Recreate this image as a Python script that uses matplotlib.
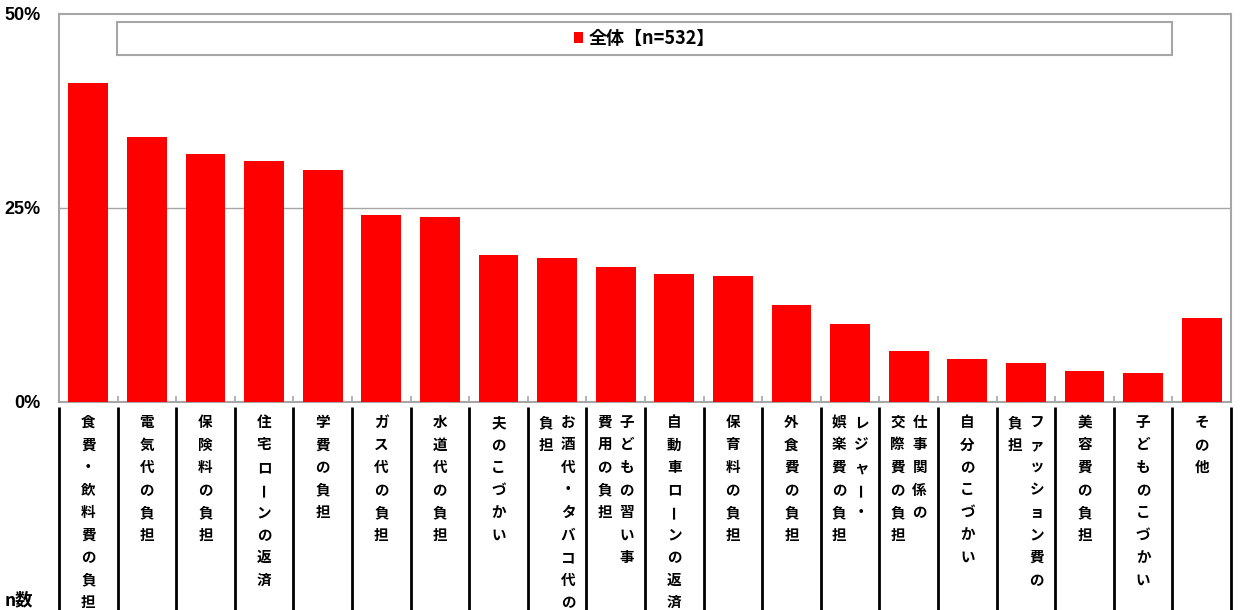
import matplotlib
matplotlib.use("Agg")
import matplotlib.pyplot as plt
from matplotlib.patches import Rectangle
from matplotlib.transforms import blended_transform_factory

plt.rcParams['font.family'] = ['Noto Sans CJK JP', 'DejaVu Sans']

# columns of each label are separated by "\n" (first column drawn on the right)
categories = [
    "食費・飲料費の負担", "電気代の負担", "保険料の負担", "住宅ローンの返済",
    "学費の負担", "ガス代の負担", "水道代の負担", "夫のこづかい",
    "お酒代・タバコ代の\n負担", "子どもの習い事\n費用の負担", "自動車ローンの返済",
    "保育料の負担", "外食費の負担", "レジャー・\n娯楽費の負担", "仕事関係の\n交際費の負担",
    "自分のこづかい", "ファッション費の\n負担", "美容費の負担", "子どものこづかい", "その他",
]
values = [41.1, 34.1, 32.0, 31.1, 29.9, 24.1, 23.8, 18.9, 18.6, 17.4,
          16.5, 16.2, 12.5, 10.1, 6.6, 5.5, 5.0, 4.0, 3.7, 10.8]
series_name = "全体【n=532】"
ytick_vals = [0, 25, 50]
ytick_labels = ["0%", "25%", "50%"]

W, H = 1242, 610
fig = plt.figure(figsize=(W / 100, H / 100), dpi=100)
ax = fig.add_axes([59 / W, 1 - 402 / H, (1231 - 59) / W, (402 - 14) / H])

gray = "#a6a6a6"
xs = list(range(len(values)))
bars = ax.bar(xs, values, width=0.68, color="#ff0000", label=series_name, zorder=3)

ax.set_xlim(-0.5, len(values) - 0.5)
ax.set_ylim(0, 50)
ax.set_yticks(ytick_vals)
ax.set_yticklabels(ytick_labels, family=['Liberation Sans', 'DejaVu Sans'],
                   fontsize=13, fontweight='bold')
ax.tick_params(axis='y', length=0, pad=13)
ax.set_xticks([k - 0.5 for k in range(1, len(values))])
ax.set_xticklabels([])
ax.tick_params(axis='x', direction='in', length=4, color=gray, width=1.2)
for s in ax.spines.values():
    s.set_color(gray)
    s.set_linewidth(1.5)
ax.axhline(25, color=gray, lw=1.0, zorder=1)

# legend box
box = Rectangle((117 / W, 1 - 55 / H), (1172 - 117) / W, 33 / H,
                transform=fig.transFigure, facecolor="white",
                edgecolor=gray, lw=1.5, zorder=5, clip_on=False)
ax.add_patch(box)
leg = ax.legend(loc='center', bbox_to_anchor=(((117 + 1172) / 2 - 59) / (1231 - 59),
                                               (402 - 38.5) / (402 - 14)),
                frameon=False, handlelength=0.5, handleheight=0.5,
                handletextpad=0.3, prop={'size': 13, 'weight': 'bold'})
leg.set_zorder(6)

# vertical category labels below the axis
tr = blended_transform_factory(ax.transData, fig.transFigure)
col_step = 22 / 58.6
for i, lab in enumerate(categories):
    cols = lab.split("\n")
    n = len(cols)
    for c, col in enumerate(cols):
        cx = i + ((n - 1) / 2 - c) * col_step
        for j, ch in enumerate(col):
            y = 1 - (422 + 22.5 * j) / H
            rot = 90 if ch == "ー" else 0
            ax.text(cx, y, ch, transform=tr, ha='center', va='center',
                    fontsize=10.5, fontweight='bold', rotation=rot, clip_on=False)

for k in range(len(values) + 1):
    ax.plot([k - 0.5, k - 0.5], [1 - 407 / H, 0], transform=tr, color='black',
            lw=2, clip_on=False, solid_capstyle='butt')

fig.text(5 / W, 1 - 609 / H, "n数", ha='left', va='bottom', fontsize=12.5,
         fontweight='bold')

fig.savefig("out.png", dpi=100)
